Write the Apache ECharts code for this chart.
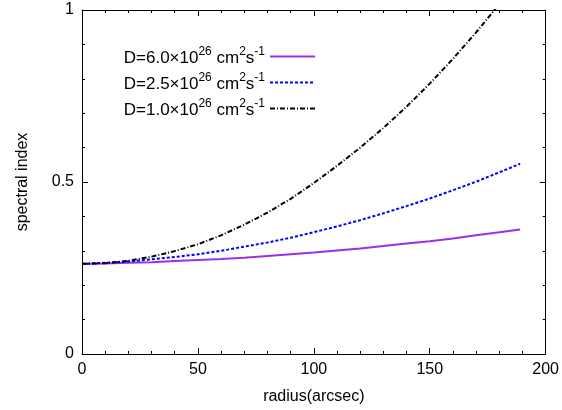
<!DOCTYPE html>
<html>
<head>
<meta charset="utf-8">
<script src="https://cdn.jsdelivr.net/npm/echarts@6/dist/echarts.min.js"></script>
<style>html,body{margin:0;padding:0;background:#fff}#c{width:562px;height:410px}</style>
</head>
<body>
<div id="c"></div>
<script>
const radius = [0, 10, 20, 30, 40, 50, 60, 70, 80, 90, 100, 110, 120, 130, 140, 150, 160, 170, 180, 189];
const d60 = [0.262, 0.263, 0.265, 0.267, 0.270, 0.273, 0.276, 0.280, 0.285, 0.290, 0.295, 0.301, 0.307, 0.314, 0.321, 0.328, 0.336, 0.345, 0.354, 0.362];
const d25 = [0.262, 0.265, 0.269, 0.275, 0.282, 0.290, 0.300, 0.312, 0.324, 0.338, 0.354, 0.371, 0.389, 0.409, 0.430, 0.452, 0.476, 0.501, 0.528, 0.553];
const d10 = [0.262, 0.264, 0.271, 0.283, 0.299, 0.319, 0.345, 0.376, 0.411, 0.451, 0.497, 0.547, 0.600, 0.657, 0.719, 0.786, 0.858, 0.935, 1.017, 1.094];
const xTicks = [0, 50, 100, 150, 200];
const yTicks = [0, 0.5, 1];
const seriesNames = ['D=6.0×10^26 cm^2s^-1', 'D=2.5×10^26 cm^2s^-1', 'D=1.0×10^26 cm^2s^-1'];

const FONT = "'Liberation Sans', Arial, sans-serif";
const pairs = arr => radius.map((r, i) => [r, arr[i]]);
const legendRich = (name) => {
  const m = name.match(/^(D=[\d.]+×10)\^(\d+) cm\^(\d)s\^(-1)$/);
  return '{b|' + m[1] + '}{s|' + m[2] + '}{b| cm}{s|' + m[3] + '}{b|s}{s|' + m[4] + '}';
};

const axisCommon = {
  type: 'value',
  axisLine: { show: true, onZero: false, lineStyle: { color: '#000', width: 1 } },
  axisTick: { show: true, inside: true, length: 6, lineStyle: { color: '#000' } },
  minorTick: { show: true, splitNumber: 5, length: 3, lineStyle: { color: '#000' } },
  splitLine: { show: false },
  minorSplitLine: { show: false }
};

const chart = echarts.init(document.getElementById('c'), null, { renderer: 'canvas' });
chart.setOption({
  animation: false,
  backgroundColor: '#fff',
  textStyle: { fontFamily: FONT },
  grid: { left: 82, right: 16, top: 10, bottom: 56, containLabel: false },
  legend: {
    orient: 'vertical',
    align: 'right',
    right: 246,
    top: 46,
    padding: 0,
    itemWidth: 45,
    itemHeight: 14,
    itemGap: 5,
    itemStyle: { opacity: 0 },
    data: seriesNames,
    formatter: legendRich,
    textStyle: {
      fontFamily: FONT,
      rich: {
        b: { fontSize: 17, fontFamily: FONT, color: '#000', lineHeight: 21, verticalAlign: 'bottom' },
        s: { fontSize: 12, fontFamily: FONT, color: '#000', lineHeight: 21, verticalAlign: 'top' }
      }
    }
  },
  xAxis: [
    Object.assign({}, axisCommon, {
      min: xTicks[0], max: xTicks[xTicks.length - 1], interval: 50,
      position: 'bottom',
      name: 'radius(arcsec)', nameLocation: 'middle', nameGap: 35,
      nameTextStyle: { fontSize: 16, color: '#000', fontFamily: FONT },
      axisLabel: { show: true, fontSize: 16, color: '#000', margin: 8, fontFamily: FONT }
    }),
    Object.assign({}, axisCommon, {
      min: xTicks[0], max: xTicks[xTicks.length - 1], interval: 50,
      position: 'top',
      axisLabel: { show: false }
    })
  ],
  yAxis: [
    Object.assign({}, axisCommon, {
      min: yTicks[0], max: yTicks[yTicks.length - 1], interval: 0.5,
      position: 'left',
      name: 'spectral index', nameLocation: 'middle', nameGap: 51,
      nameTextStyle: { fontSize: 16, color: '#000', fontFamily: FONT },
      axisLabel: { show: true, fontSize: 16, color: '#000', margin: 8, fontFamily: FONT }
    }),
    Object.assign({}, axisCommon, {
      min: yTicks[0], max: yTicks[yTicks.length - 1], interval: 0.5,
      position: 'right',
      axisLabel: { show: false }
    })
  ],
  series: [
    { name: seriesNames[0], type: 'line', data: pairs(d60), symbol: 'none', smooth: false, clip: true,
      lineStyle: { color: '#9b30e8', width: 2, type: 'solid' }, itemStyle: { color: '#9b30e8' } },
    { name: seriesNames[1], type: 'line', data: pairs(d25), symbol: 'none', smooth: false, clip: true,
      lineStyle: { color: '#0000ff', width: 2, type: [3, 2] }, itemStyle: { color: '#0000ff' } },
    { name: seriesNames[2], type: 'line', data: pairs(d10), symbol: 'none', smooth: false, clip: true,
      lineStyle: { color: '#000000', width: 2, type: [5, 2, 1, 2] }, itemStyle: { color: '#000000' } }
  ]
});
</script>
</body>
</html>
